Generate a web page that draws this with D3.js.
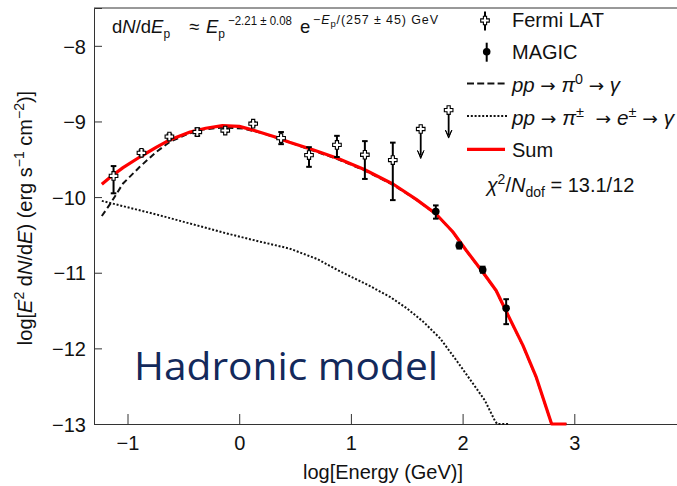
<!DOCTYPE html>
<html>
<head>
<meta charset="utf-8">
<script src="https://cdn.jsdelivr.net/npm/d3@7"></script>
<style>
  body { margin: 0; background: #fff; }
  svg { display: block; font-family: "Liberation Sans", Arial, Helvetica, sans-serif; }
  text { white-space: pre; }
</style>
</head>
<body>
<svg id="chart" width="677" height="486"></svg>
<script>
// ---- Fermi LAT spectral points (log10 E [GeV], log10 E^2 dN/dE) ----
const fermiE  = [-1.125, -0.875, -0.625, -0.375, -0.125, 0.125, 0.375, 0.625, 0.875, 1.125, 1.375];
const fermiF  = [-9.72, -9.415, -9.20, -9.14, -9.12, -9.03, -9.22, -9.445, -9.31, -9.44, -9.51];
const fermiLo = [-9.95, -9.45, -9.23, -9.19, -9.14, -9.05, -9.30, -9.60, -9.47, -9.76, -10.04];
const fermiHi = [-9.59, -9.38, -9.17, -9.09, -9.10, -9.01, -9.14, -9.34, -9.19, -9.26, -9.28];

// ---- Fermi LAT upper limits ----
const ulE   = [1.625, 1.875];
const ulF   = [-9.10, -8.85];
const ulTip = [-9.49, -9.22];

// ---- MAGIC points ----
const magicE  = [1.76, 1.97, 2.18, 2.39];
const magicF  = [-10.19, -10.64, -10.96, -11.47];
const magicLo = [-10.285, -10.68, -11.00, -11.68];
const magicHi = [-10.11, -10.60, -10.92, -11.35];

// ---- model curves ----
const pi0E = [-1.23, -1.155, -1.04, -0.89, -0.74, -0.62, -0.47, -0.32, -0.14, 0.04, 0.21, 0.38, 0.66, 0.885, 1.12, 1.38, 1.585, 1.76, 1.91, 2.03, 2.18, 2.30, 2.39, 2.54, 2.66, 2.797, 2.93];
const pi0F = [-10.25, -10.09, -9.82, -9.60, -9.40, -9.27, -9.17, -9.105, -9.08, -9.095, -9.155, -9.24, -9.385, -9.50, -9.645, -9.84, -10.035, -10.225, -10.46, -10.705, -10.995, -11.24, -11.515, -11.965, -12.39, -13.01, -13.6];

const piPmE = [-1.23, -1.04, -0.74, -0.44, -0.14, 0.16, 0.45, 0.70, 0.90, 1.15, 1.35, 1.50, 1.65, 1.80, 1.95, 2.10, 2.20, 2.25, 2.29, 2.31, 2.41];
const piPmF = [-10.05, -10.12, -10.23, -10.35, -10.47, -10.58, -10.68, -10.82, -10.98, -11.16, -11.32, -11.47, -11.65, -11.87, -12.17, -12.48, -12.69, -12.84, -12.96, -13.02, -13.4];

const sumE = [-1.23, -1.15, -1.04, -0.89, -0.74, -0.63, -0.44, -0.30, -0.15, 0.0, 0.125, 0.33, 0.45, 0.66, 0.885, 1.12, 1.38, 1.585, 1.76, 1.91, 2.03, 2.18, 2.30, 2.39, 2.54, 2.66, 2.797, 2.93];
const sumF = [-9.83, -9.73, -9.61, -9.47, -9.34, -9.25, -9.14, -9.09, -9.055, -9.065, -9.115, -9.21, -9.275, -9.375, -9.49, -9.635, -9.83, -10.03, -10.22, -10.455, -10.70, -10.99, -11.235, -11.51, -11.96, -12.385, -13.0, -13.6];

// ---- axis ticks ----
const xMajor = [-1, 0, 1, 2, 3, 4];
const xLabels = [-1, 0, 1, 2, 3];
const yMajor = [-13, -12, -11, -10, -9, -8];

const svg = d3.select("#chart");
const x = d3.scaleLinear().domain([-1.3, 4]).range([94, 686]);
const y = d3.scaleLinear().domain([-13, -7.5]).range([424, 8]).clamp(true);

const xMinor = d3.range(-1.2, 4.0001, 0.2).map(v => +v.toFixed(1)).filter(v => !xMajor.includes(v));
const yMinor = d3.range(-12.8, -7.5, 0.2).map(v => +v.toFixed(1)).filter(v => !yMajor.includes(v));

// ---- axes (ticks point into the frame) ----
const fmt = d => xLabels.includes(d) ? d3.format("")(d) : "";
const gx = svg.append("g").attr("transform", `translate(0,${y(-13)})`);
gx.call(d3.axisBottom(x).tickValues(xMinor).tickSize(-6).tickFormat(""));
gx.call(d3.axisBottom(x).tickValues(xMajor).tickSize(-10).tickFormat(fmt));
gx.selectAll("path").attr("stroke", "#333");
gx.selectAll("line").attr("stroke", "#333");
gx.selectAll("text").attr("y", 26).attr("dy", null)
  .attr("font-size", 20).attr("fill", "#111").attr("font-family", "Liberation Sans, Arial, sans-serif");

const gy = svg.append("g").attr("transform", `translate(${x(-1.3)},0)`);
gy.call(d3.axisLeft(y).tickValues(yMinor).tickSize(-5.5).tickFormat(""));
gy.call(d3.axisLeft(y).tickValues(yMajor).tickSize(-8).tickFormat(d3.format("")));
gy.selectAll("path").attr("stroke", "#333");
gy.selectAll("line").attr("stroke", "#333");
gy.selectAll("text").attr("x", -8).attr("dy", "0.36em")
  .attr("font-size", 20).attr("fill", "#111").attr("font-family", "Liberation Sans, Arial, sans-serif");

// top frame line
svg.append("line").attr("x1", x(-1.3)).attr("x2", 677).attr("y1", y(-7.5)).attr("y2", y(-7.5))
  .attr("stroke", "#333").attr("stroke-width", 1);

// ---- axis titles ----
svg.append("text").attr("x", 383).attr("y", 479).attr("text-anchor", "middle")
  .attr("font-size", 20).attr("fill", "#111").text("log[Energy (GeV)]");

const yt = svg.append("text").attr("transform", "translate(32,218) rotate(-90)")
  .attr("text-anchor", "middle").attr("font-size", 20).attr("fill", "#111");
yt.append("tspan").text("log[");
yt.append("tspan").attr("font-style", "italic").text("E");
yt.append("tspan").attr("font-size", 14).attr("dy", -8).text("2");
yt.append("tspan").attr("dy", 8).text(" d");
yt.append("tspan").attr("font-style", "italic").text("N");
yt.append("tspan").text("/d");
yt.append("tspan").attr("font-style", "italic").text("E");
yt.append("tspan").text(") (erg s");
yt.append("tspan").attr("font-size", 14).attr("dy", -8).text("\u22121");
yt.append("tspan").attr("dy", 8).text(" cm");
yt.append("tspan").attr("font-size", 14).attr("dy", -8).text("\u22122");
yt.append("tspan").attr("dy", 8).text(")]");

// ---- curves ----
const plot = svg.append("g");
const line = d3.line().x(d => x(d[0])).y(d => y(d[1]));

plot.append("path").datum(d3.zip(piPmE, piPmF)).attr("d", line)
  .attr("fill", "none").attr("stroke", "#111").attr("stroke-width", 2).attr("stroke-dasharray", "2,1.8");
plot.append("path").datum(d3.zip(pi0E, pi0F)).attr("d", line)
  .attr("fill", "none").attr("stroke", "#111").attr("stroke-width", 2).attr("stroke-dasharray", "6,3.5");
plot.append("path").datum(d3.zip(sumE, sumF)).attr("d", line)
  .attr("fill", "none").attr("stroke", "#ff0000").attr("stroke-width", 3.2).attr("stroke-linejoin", "round");

// ---- markers ----
const crossPath = (a = 4.3, w = 1.6) =>
  `M${-w},${-a}H${w}V${-w}H${a}V${w}H${w}V${a}H${-w}V${w}H${-a}V${-w}H${-w}Z`;

function errBar(g, xv, lo, hi) {
  const px = x(xv);
  g.append("line").attr("x1", px).attr("x2", px).attr("y1", y(lo)).attr("y2", y(hi))
    .attr("stroke", "#000").attr("stroke-width", 2);
  [lo, hi].forEach(v => g.append("line").attr("x1", px - 2.8).attr("x2", px + 2.8)
    .attr("y1", y(v)).attr("y2", y(v)).attr("stroke", "#000").attr("stroke-width", 2));
}

const marks = svg.append("g");
fermiE.forEach((e, i) => errBar(marks, e, fermiLo[i], fermiHi[i]));
fermiE.forEach((e, i) => marks.append("path").attr("d", crossPath())
  .attr("transform", `translate(${x(e)},${y(fermiF[i])})`)
  .attr("fill", "#fff").attr("stroke", "#000").attr("stroke-width", 1.1));

// upper limits
ulE.forEach((e, i) => {
  const px = x(e), tip = y(ulTip[i]);
  marks.append("line").attr("x1", px).attr("x2", px).attr("y1", y(ulF[i])).attr("y2", tip - 3)
    .attr("stroke", "#000").attr("stroke-width", 1.8);
  marks.append("path").attr("d", `M${px - 3.2},${tip - 8}L${px},${tip - 1.5}L${px + 3.2},${tip - 8}L${px},${tip}Z`)
    .attr("fill", "#000").attr("stroke", "#000").attr("stroke-width", 1);
  marks.append("path").attr("d", crossPath())
    .attr("transform", `translate(${px},${y(ulF[i])})`)
    .attr("fill", "#fff").attr("stroke", "#000").attr("stroke-width", 1.1);
});

magicE.forEach((e, i) => errBar(marks, e, magicLo[i], magicHi[i]));
magicE.forEach((e, i) => marks.append("circle").attr("cx", x(e)).attr("cy", y(magicF[i]))
  .attr("r", 3.8).attr("fill", "#000"));

// ---- fitted proton spectrum formula ----
const fg = svg.append("g").attr("fill", "#111");
const f1 = fg.append("text").attr("x", 112).attr("y", 33).attr("font-size", 18.5);
f1.append("tspan").text("d");
f1.append("tspan").attr("font-style", "italic").text("N");
f1.append("tspan").text("/d");
f1.append("tspan").attr("font-style", "italic").text("E");
f1.append("tspan").attr("font-size", 12).attr("dy", 5).text("p");
fg.append("text").attr("x", 189).attr("y", 33).attr("font-size", 18.5).text("\u2248");
const f2 = fg.append("text").attr("x", 206).attr("y", 33).attr("font-size", 18.5);
f2.append("tspan").attr("font-style", "italic").text("E");
f2.append("tspan").attr("font-size", 12).attr("dy", 5).text("p");
fg.append("text").attr("x", 228).attr("y", 25).attr("font-size", 12.5)
  .attr("textLength", 64).attr("lengthAdjust", "spacingAndGlyphs").text("\u22122.21 \u00b1 0.08");
fg.append("text").attr("x", 300).attr("y", 33).attr("font-size", 18.5).text("e");
const f3 = fg.append("text").attr("x", 313).attr("y", 24).attr("font-size", 12.5)
  .attr("textLength", 125).attr("lengthAdjust", "spacing");
f3.append("tspan").text("\u2212");
f3.append("tspan").attr("font-style", "italic").text("E");
f3.append("tspan").attr("font-size", 9.5).attr("dy", 3).text("p");
f3.append("tspan").attr("dy", -3).text("/(257 \u00b1 45) GeV");

// ---- legend ----
const lg = svg.append("g").attr("font-size", 20).attr("fill", "#111");
const rowY = [26.5, 59.2, 91.9, 124.6, 157.3];
const tx = 512;
const arrowFont = "DejaVu Sans";

// Fermi LAT
lg.append("line").attr("x1", 485).attr("x2", 485).attr("y1", rowY[0] - 15).attr("y2", rowY[0] + 4)
  .attr("stroke", "#000").attr("stroke-width", 2);
lg.append("path").attr("d", crossPath()).attr("transform", `translate(485,${rowY[0] - 6})`)
  .attr("fill", "#fff").attr("stroke", "#000").attr("stroke-width", 1.1);
lg.append("text").attr("x", tx).attr("y", rowY[0]).text("Fermi LAT");

// MAGIC
lg.append("line").attr("x1", 486.7).attr("x2", 486.7).attr("y1", rowY[1] - 16.5).attr("y2", rowY[1] + 2.5)
  .attr("stroke", "#000").attr("stroke-width", 2);
lg.append("circle").attr("cx", 486.7).attr("cy", rowY[1] - 7.5).attr("r", 3.8).attr("fill", "#000");
lg.append("text").attr("x", tx).attr("y", rowY[1]).text("MAGIC");

// pi0 channel
lg.append("line").attr("x1", 467).attr("x2", 507).attr("y1", rowY[2] - 8.5).attr("y2", rowY[2] - 8.5)
  .attr("stroke", "#111").attr("stroke-width", 2).attr("stroke-dasharray", "7,3.2");
const t3 = lg.append("text").attr("x", tx).attr("y", rowY[2])
  .attr("textLength", 108).attr("lengthAdjust", "spacingAndGlyphs");
t3.append("tspan").attr("font-style", "italic").text("pp ");
t3.append("tspan").attr("font-family", arrowFont).attr("font-size", 18).text("\u2192");
t3.append("tspan").attr("font-style", "italic").text(" \u03c0");
t3.append("tspan").attr("font-size", 14).attr("dy", -8).text("0");
t3.append("tspan").attr("dy", 8).text(" ");
t3.append("tspan").attr("font-family", arrowFont).attr("font-size", 18).text("\u2192");
t3.append("tspan").attr("font-style", "italic").text(" \u03b3");

// charged pion channel
lg.append("line").attr("x1", 467).attr("x2", 507).attr("y1", rowY[3] - 8.5).attr("y2", rowY[3] - 8.5)
  .attr("stroke", "#111").attr("stroke-width", 2).attr("stroke-dasharray", "2,1.8");
const t4 = lg.append("text").attr("x", tx).attr("y", rowY[3])
  .attr("textLength", 162).attr("lengthAdjust", "spacingAndGlyphs");
t4.append("tspan").attr("font-style", "italic").text("pp ");
t4.append("tspan").attr("font-family", arrowFont).attr("font-size", 18).text("\u2192");
t4.append("tspan").attr("font-style", "italic").text(" \u03c0");
t4.append("tspan").attr("font-size", 14).attr("dy", -8).text("\u00b1");
t4.append("tspan").attr("dy", 8).text("  ");
t4.append("tspan").attr("font-family", arrowFont).attr("font-size", 18).text("\u2192");
t4.append("tspan").attr("font-style", "italic").text(" e");
t4.append("tspan").attr("font-size", 14).attr("dy", -8).text("\u00b1");
t4.append("tspan").attr("dy", 8).text(" ");
t4.append("tspan").attr("font-family", arrowFont).attr("font-size", 18).text("\u2192");
t4.append("tspan").attr("font-style", "italic").text(" \u03b3");

// Sum
lg.append("line").attr("x1", 467).attr("x2", 505).attr("y1", rowY[4] - 8).attr("y2", rowY[4] - 8)
  .attr("stroke", "#ff0000").attr("stroke-width", 3.2);
lg.append("text").attr("x", tx).attr("y", rowY[4]).text("Sum");

// chi2 / ndof
const t6 = lg.append("text").attr("x", 486.7).attr("y", 191.7);
t6.append("tspan").attr("font-style", "italic").text("\u03c7");
t6.append("tspan").attr("font-size", 14).attr("dy", -8).text("2");
t6.append("tspan").attr("dy", 8).text("/");
t6.append("tspan").attr("font-style", "italic").text("N");
t6.append("tspan").attr("font-size", 14).attr("dy", 5).text("dof");
t6.append("tspan").attr("dy", -5).text(" = 13.1/12");

// ---- model label ----
svg.append("text").attr("x", 134).attr("y", 380)
  .attr("font-family", "'Open Sans', Lato, sans-serif").attr("font-size", 38)
  .attr("fill", "#13295b").attr("textLength", 304).attr("lengthAdjust", "spacingAndGlyphs")
  .text("Hadronic model");
</script>
</body>
</html>
